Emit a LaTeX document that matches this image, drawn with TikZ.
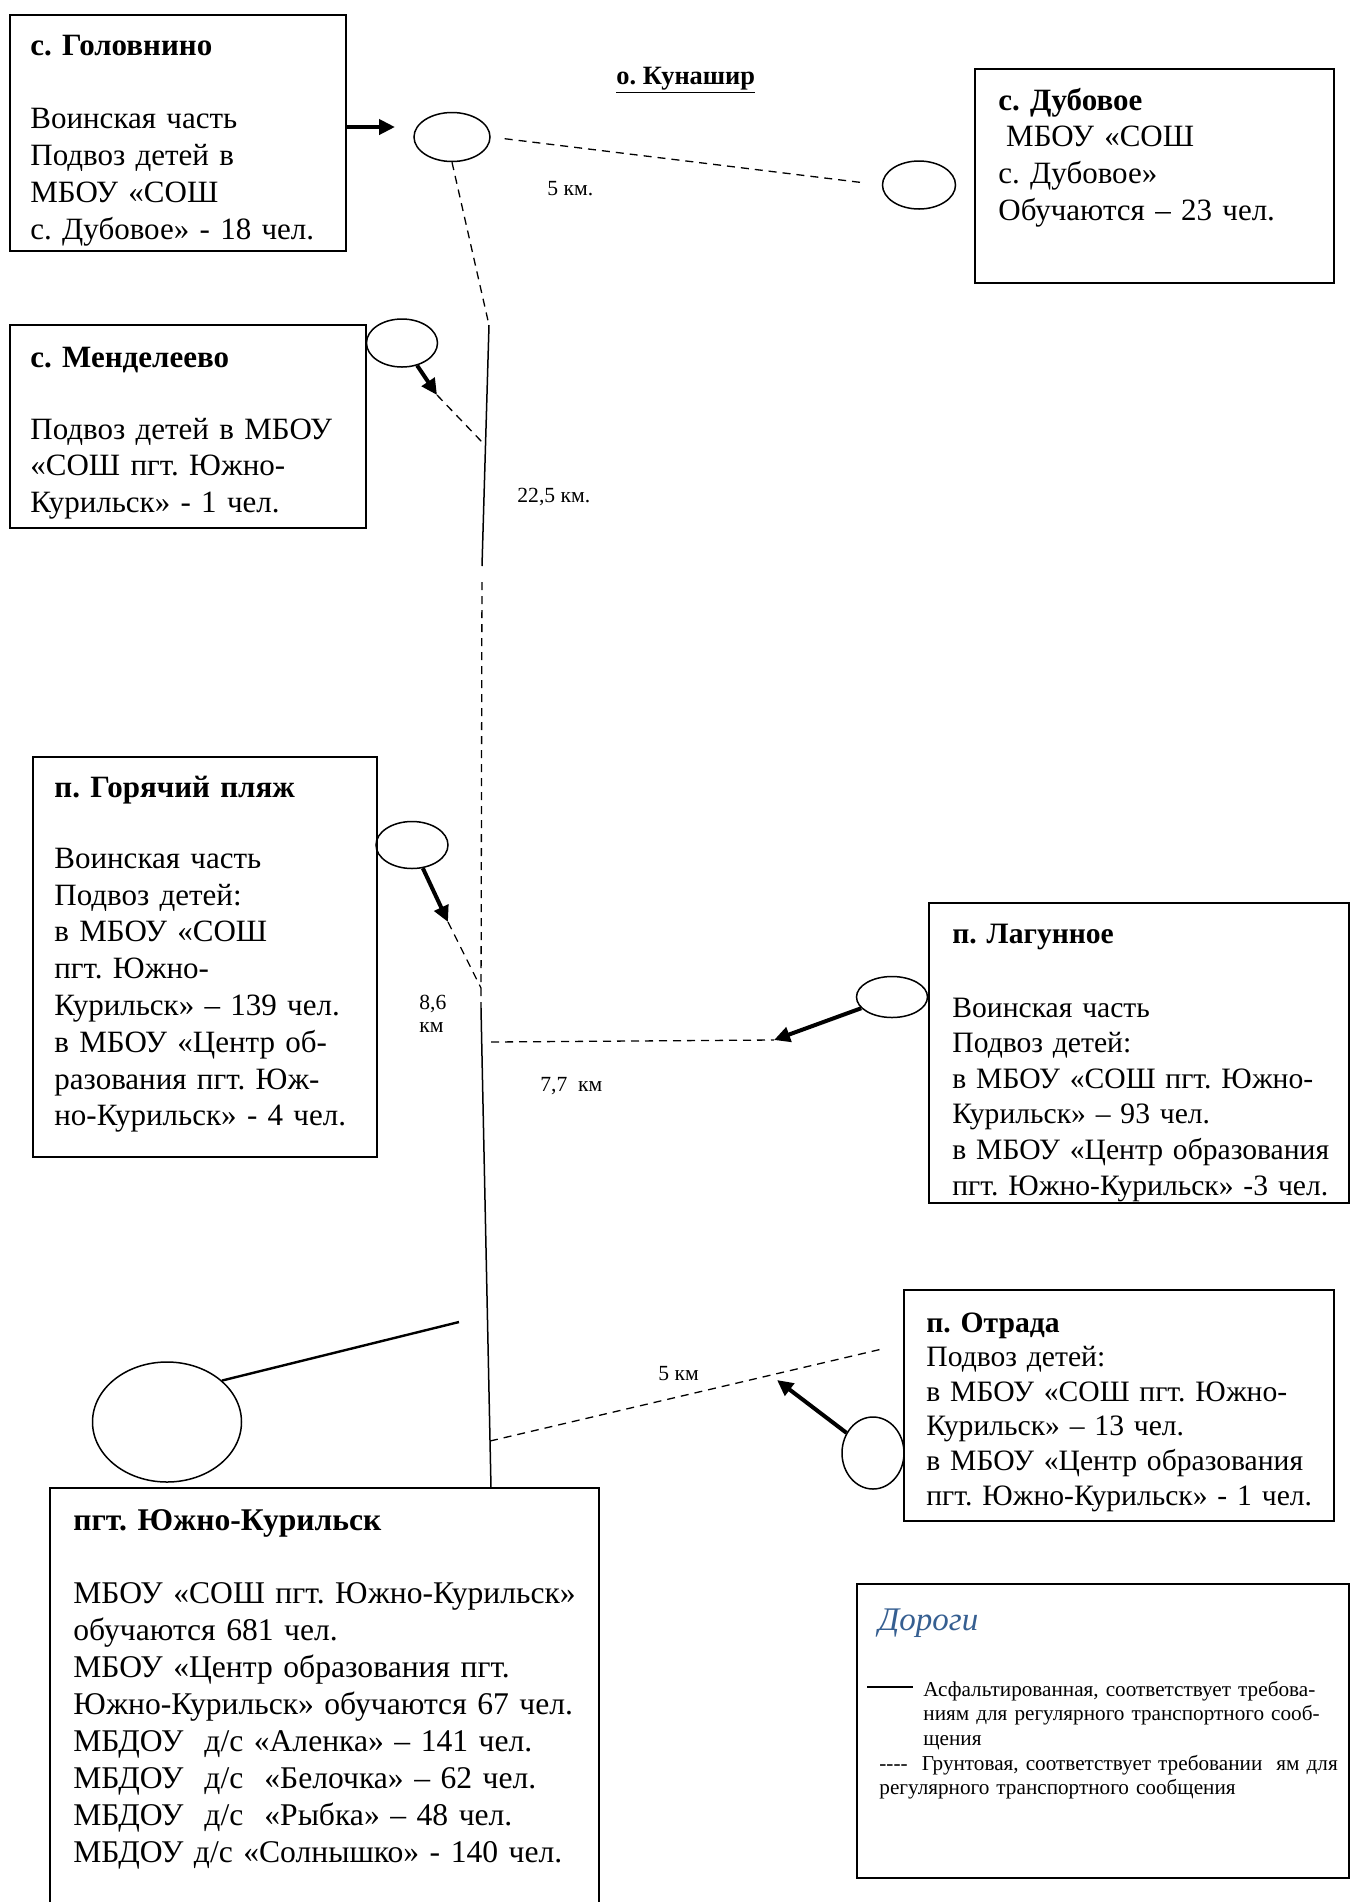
\documentclass[tikz,border=0pt]{standalone}
\usepackage{fontspec}
\setmainfont{Liberation Serif}
\usepackage{xcolor}
\usepackage{tikz}
\usetikzlibrary{positioning}
\usetikzlibrary{shapes.geometric,fit}
\usetikzlibrary{arrows.meta}
\definecolor{legblue}{RGB}{54,95,145}
\tikzset{>={Triangle[length=8pt,width=7.5pt]}}
\frenchspacing
\newcommand{\fsMain}{\fontsize{15.5}{18.4}\selectfont}
\newcommand{\fsSmall}{\fontsize{14.8}{17.8}\selectfont}
\newcommand{\fsLeg}{\fontsize{10.6}{12.3}\selectfont}

\begin{document}
\begin{tikzpicture}[x=0.5pt, y=-0.5pt,
    box/.style={draw, line width=0.9pt, inner sep=0pt},
    oval/.style={draw, ellipse, line width=0.75pt, inner sep=0pt},
    txt/.style={anchor=base west, inner sep=0pt, align=left, text width=#1},
    km/.style={anchor=base west, inner sep=0pt, font=\fontsize{10.8}{11.5}\selectfont},
    asph/.style={line width=0.75pt},
    dirt/.style={line width=0.65pt, dash pattern=on 4pt off 3pt},
    arr/.style={line width=2pt, ->}]

\useasboundingbox (0,0) rectangle (1350,1902);
\clip (0,0) rectangle (1350,1902);

% Settlement boxes
\node[box, fit={(10,15) (346,251)}] (golov) {};
\node[box, fit={(975,69) (1334,283)}] (dub) {};
\node[box, fit={(10,325) (366,528)}] (mend) {};
\node[box, fit={(33,757) (377,1157)}] (gor) {};
\node[box, fit={(929,903) (1349,1203)}] (lag) {};
\node[box, fit={(904,1290) (1334,1521)}] (otr) {};
\node[box, fit={(50,1488) (599,1930)}] (yuzh) {};

% Box texts
\node[txt=200pt, font=\fsMain] (golovTxt) at (30,55)
  {\textbf{с. Головнино}\\[18.4pt] Воинская часть\\ Подвоз детей в\\ МБОУ «СОШ\\ с. Дубовое» - 18 чел.};
\node[txt=200pt, font=\fsMain] (dubTxt) at (998,110)
  {\textbf{с. Дубовое}\\ \hspace*{3.9pt}МБОУ «СОШ\\ с. Дубовое»\\ Обучаются – 23 чел.};
\node[txt=200pt, font=\fsMain] (mendTxt) at (30,367)
  {\textbf{с. Менделеево}\\[17.6pt] Подвоз детей в МБОУ\\ «СОШ пгт. Южно-\\ Курильск» - 1 чел.};
\node[txt=200pt, font=\fsMain] (gorTxt) at (54,797)
  {\textbf{п. Горячий пляж}\\[17.2pt] Воинская часть\\ Подвоз детей:\\ в МБОУ «СОШ\\ пгт. Южно-\\
   Курильск» – 139 чел.\\ в МБОУ «Центр об-\\ разования пгт. Юж-\\ но-Курильск» - 4 чел.};
\node[txt=230pt, font=\fsSmall] (lagTxt) at (952,943)
  {\textbf{п. Лагунное}\\[19.2pt] Воинская часть\\ Подвоз детей:\\ в МБОУ «СОШ пгт. Южно-\\
   Курильск» – 93 чел.\\ в МБОУ «Центр образования\\ пгт. Южно-Курильск» -3 чел.};
\node[txt=230pt, font=\fontsize{14.8}{17.3}\selectfont] (otrTxt) at (926,1332)
  {\textbf{п. Отрада}\\ Подвоз детей:\\ в МБОУ «СОШ пгт. Южно-\\ Курильск» – 13 чел.\\
   в МБОУ «Центр образования\\ пгт. Южно-Курильск» - 1 чел.};
\node[txt=290pt, font=\fontsize{15.8}{18.5}\selectfont] (yuzhTxt) at (73,1530)
  {\textbf{пгт. Южно-Курильск}\\[18pt] МБОУ «СОШ пгт. Южно-Курильск»\\ обучаются 681 чел.\\
   МБОУ «Центр образования пгт.\\ Южно-Курильск» обучаются 67 чел.\\
   МБДОУ~~д/с «Аленка» – 141 чел.\\ МБДОУ~~д/с~~«Белочка» – 62 чел.\\
   МБДОУ~~д/с~~«Рыбка» – 48 чел.\\ МБДОУ д/с «Солнышко» - 140 чел.};

% Ovals
\node[oval, minimum width=38pt, minimum height=24.5pt] (golovOval) at (452,137) {};
\node[oval, minimum width=36.5pt, minimum height=24pt] (dubOval) at (919,185) {};
\node[oval, minimum width=35.5pt, minimum height=24pt] (mendOval) at (402,343) {};
\node[oval, minimum width=36pt, minimum height=23.5pt] (gorOval) at (412,845) {};
\node[oval, minimum width=35.5pt, minimum height=20.5pt] (lagOval) at (892,997) {};
\node[oval, minimum width=31pt, minimum height=36pt] (otrOval) at (873,1453) {};
\node[oval, minimum width=74.5pt, minimum height=60pt] (yuzhOval) at (167,1422) {};

% Road points
\coordinate (golovTip) at (395,127);
\coordinate (roadA) at (489,325);
\coordinate (roadB) at (482,566);
\coordinate (roadC) at (481,1008);
\coordinate (roadD) at (491,1488);
\coordinate (mendTip) at (437,395);
\coordinate (mendJoin) at (482,442);
\coordinate (gorTip) at (448,922);
\coordinate (gorJoin) at (481,988);
\coordinate (lagTip) at (774,1040);
\coordinate (lagJoin) at (491,1042);
\coordinate (otrTip) at (777,1380);
\coordinate (otrJoin) at (490,1441);
\coordinate (otrEnd) at (882,1349);
\coordinate (yuzhEnd) at (459,1322);

% Main road
\draw[dirt] (golovOval.south) -- (roadA);
\draw[asph] (roadA) -- (roadB);
\draw[dirt, shorten <=8pt] (roadB) -- (roadC);
\draw[asph] (roadC) -- (roadD);
\draw[dirt, shorten <=7pt, shorten >=8.5pt] (golovOval.east) -- (dubOval.west);

% Side roads
\draw[dirt] (mendTip) -- (mendJoin);
\draw[dirt] (gorTip) -- (gorJoin);
\draw[dirt] (lagJoin) -- (lagTip);
\draw[dirt] (otrJoin) -- (otrEnd);
\draw[line width=1.2pt] (yuzhOval.37) -- (yuzhEnd);

% Arrows
\draw[arr] (golov.east |- golovTip) -- (golovTip);
\draw[arr] (mendOval) -- (mendTip);
\draw[arr] (gorOval) -- (gorTip);
\draw[arr] (lagOval) -- (lagTip);
\draw[arr] (otrOval) -- (otrTip);

% Distances
\node[anchor=base west, inner sep=0pt, font=\fontsize{13.2}{15}\selectfont\bfseries] (kunashir) at (616,84) {\underline{о. Кунашир}};
\node[km] (kmTop) at (547,195) {5 км.};
\node[km] (km225) at (517,502) {22,5 км.};
\node[km, align=left, text width=30pt] (km86) at (419,1009) {8,6\\км};
\node[km] (km77) at (540,1091) {7,7~~км};
\node[km] (kmBot) at (658,1380) {5 км};

% Legend
\node[box, fit={(857,1584) (1349,1878)}] (legend) {};
\node[anchor=base west, inner sep=0pt, font=\fontsize{16.5}{20}\selectfont\itshape, text=legblue] (legTitle) at (878,1630) {Дороги};
\draw[line width=1pt] (867,1687) -- (913,1687);
\node[txt=220pt, font=\fsLeg] (legAsph) at (923,1696)
  {Асфальтированная, соответствует требова-\\ ниям для регулярного транспортного сооб-\\ щения};
\node[txt=240pt, font=\fsLeg] (legDirt) at (879,1770)
  {-{}-{}-{}-\ \ Грунтовая, соответствует требовании\ \ ям для\\ регулярного транспортного сообщения};
\end{tikzpicture}
\end{document}
